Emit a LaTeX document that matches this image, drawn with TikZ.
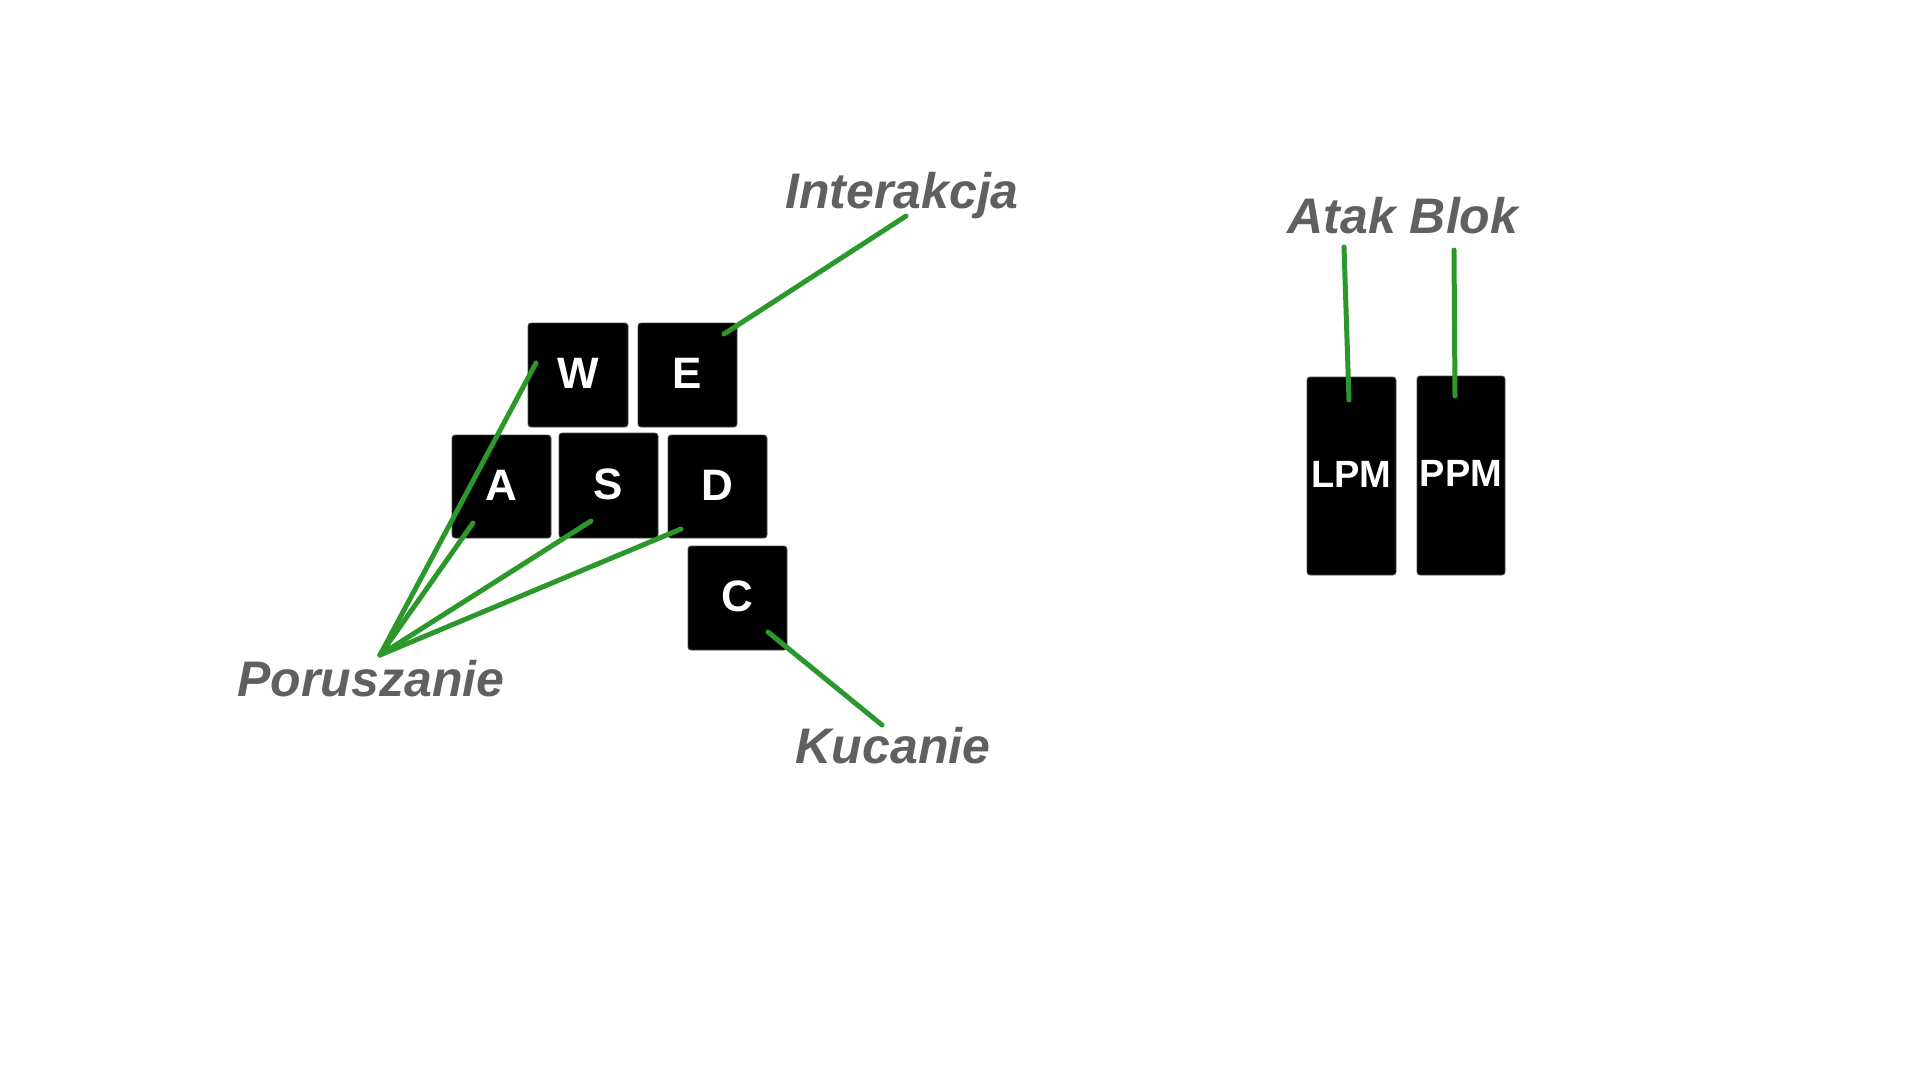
\documentclass[tikz,border=0pt]{standalone}
\usepackage{fontspec}
\setmainfont{Liberation Sans}
\definecolor{lblgray}{RGB}{96,96,96}
\definecolor{lnkgreen}{RGB}{44,152,44}
\newcommand{\keyup}[1]{\raisebox{3pt}{#1}}
\tikzset{
  keybox/.style={fill=black, draw=black!70, line width=0.8pt, rounded corners=3pt, inner sep=0pt,
    text=white, font=\fontsize{44}{44}\selectfont\bfseries},
  mousebox/.style={keybox, font=\fontsize{38}{38}\selectfont\bfseries},
  lbl/.style={text=lblgray, font=\fontsize{50}{50}\selectfont\bfseries\itshape, anchor=base, inner sep=0pt},
  link/.style={draw=lnkgreen, line width=5pt, line cap=round}
}
\begin{document}
\begin{tikzpicture}[x=1pt,y=-1pt]
\useasboundingbox (0,0) rectangle (1920,1080);
% keys
\node[keybox, minimum width=100pt, minimum height=104pt] (W) at (578,375) {\keyup{W}};
\node[keybox, minimum width=99pt, minimum height=104pt] (E) at (687.5,375) {\keyup{E}};
\node[keybox, minimum width=99pt, minimum height=103pt] (A) at (501.5,486.5) {\keyup{A}};
\node[keybox, minimum width=99pt, minimum height=105pt] (S) at (608.5,485.5) {\keyup{S}};
\node[keybox, minimum width=99pt, minimum height=103pt] (D) at (717.5,486.5) {\keyup{D}};
\node[keybox, minimum width=99pt, minimum height=104pt] (C) at (737.5,598) {\keyup{C}};
\node[mousebox, minimum width=89pt, minimum height=198pt] (LPM) at (1351.5,476) {\raisebox{4pt}{LPM}};
\node[mousebox, minimum width=88pt, minimum height=199pt] (PPM) at (1461,475.5) {\raisebox{4pt}{PPM}};
% labels
\node[lbl] (Int) at (902,208) {Interakcja};
\node[lbl] (Por) at (371,696) {Poruszanie};
\node[lbl] (Kuc) at (893,763) {Kucanie};
\node[lbl] (AB) at (1403,233) {Atak Blok};
% connector ends
\coordinate (hub) at (380,655);
\coordinate (wE) at (536,363);
\coordinate (aE) at (473,523);
\coordinate (sE) at (591,521);
\coordinate (dE) at (681,529);
\coordinate (cE) at (768,632);
\coordinate (kE) at (882,725);
\coordinate (eE) at (724,334);
\coordinate (iE) at (906,216);
\coordinate (lE) at (1349,400);
\coordinate (atE) at (1344,247);
\coordinate (pE) at (1455,396);
\coordinate (blE) at (1454,250);
% connectors
\draw[link] (hub) -- (wE);
\draw[link] (hub) -- (aE);
\draw[link] (hub) -- (sE);
\draw[link] (hub) -- (dE);
\draw[link] (cE) -- (kE);
\draw[link] (eE) -- (iE);
\draw[link] (atE) -- (lE);
\draw[link] (blE) -- (pE);
\end{tikzpicture}
\end{document}
